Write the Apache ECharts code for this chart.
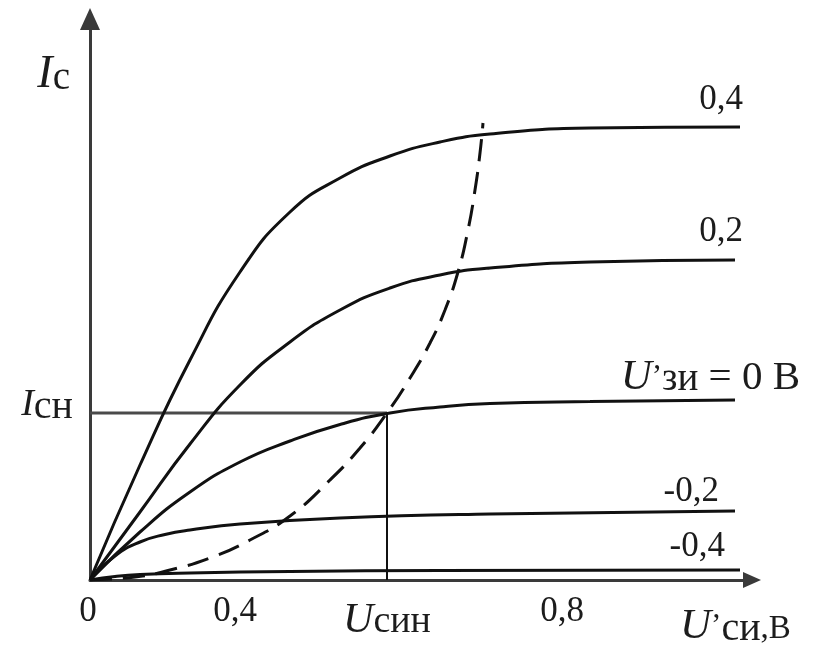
<!DOCTYPE html>
<html><head><meta charset="utf-8">
<script src="https://cdn.jsdelivr.net/npm/echarts@6/dist/echarts.min.js"></script>
<style>html,body{margin:0;padding:0;background:#fff}#c{width:813px;height:648px}</style>
</head><body><div id="c"></div>
<script>
// Schematic FET output characteristics (arbitrary drawing units on both axes)
const curve04  = [[0,0],[0.5,1.15],[1.0,2.20],[1.5,3.08],[2.0,3.68],[2.5,4.02],[3.0,4.24],[3.5,4.38],[4.0,4.46],[5.0,4.52],[6.5,4.53]];
const curve02  = [[0,0],[0.5,0.68],[1.0,1.36],[1.5,1.95],[2.0,2.38],[2.5,2.70],[3.0,2.92],[3.5,3.05],[4.0,3.12],[5.0,3.18],[6.45,3.20]];
const curve0   = [[0,0],[0.5,0.48],[1.0,0.88],[1.5,1.18],[2.0,1.39],[2.5,1.555],[3.0,1.67],[3.5,1.73],[4.0,1.765],[5.0,1.785],[6.45,1.80]];
const curveM02 = [[0,0],[0.25,0.24],[0.5,0.38],[0.75,0.455],[1.0,0.50],[1.5,0.56],[2.5,0.62],[4.0,0.66],[6.45,0.69]];
const curveM04 = [[0,0],[0.25,0.035],[0.5,0.055],[1.0,0.07],[2.0,0.085],[3.5,0.095],[6.5,0.10]];
const satBoundary = [[0,0],[0.45,0.03],[0.8,0.10],[1.2,0.22],[1.6,0.40],[2.0,0.64],[2.4,1.00],[2.7,1.32],[2.97,1.67],[3.2,2.02],[3.4,2.37],[3.55,2.70],[3.68,3.08],[3.78,3.50],[3.85,3.90],[3.9,4.27],[3.93,4.57]];
const iChLevel = 1.67;
const uSatValue = 2.97;
const xTickPos  = [0, 1.45, uSatValue, 4.72];
const xTickText = ['0', '0,4', 'U_син', '0,8'];
const yTickPos  = [iChLevel];
const yTickText = ['I_сн'];
const curveLabels = ['0,4', '0,2', 'U’_зи_ = 0 В', '-0,2', '-0,4'];
const xAxisName = 'U’_си_,В';
const yAxisName = 'I_с';
const xMax = 6.62, yMax = 5.61;

const FONT = "'Liberation Serif','Times New Roman',serif";
const INK = '#1c1c1c';

function toRich(t, mainKey, subKey, restKey) {
  const parts = t.split('_');
  if (parts.length === 1) return t;
  let s = '{' + mainKey + '|' + parts[0] + '}{' + subKey + '|' + parts[1] + '}';
  if (parts.length > 2 && parts[2]) s += '{' + restKey + '|' + parts[2] + '}';
  return s;
}
function primedRich(t, restKey) {
  const p = t.split('_');
  return '{i|U}{ap|’}{s|' + p[1] + '}{' + restKey + '|' + p[2] + '}';
}

const chart = echarts.init(document.getElementById('c'), null, {renderer: 'canvas'});

const curves = [curve04, curve02, curve0, curveM02, curveM04];
const labelOffsets = [[3,-27],[8,-28],[65,-22],[-16,-19],[-15,-23]];

const series = curves.map((d, k) => ({
  type: 'line', data: d, smooth: 0.5,
  symbol: 'none', showSymbol: false, silent: true, z: 3,
  lineStyle: {color: '#111', width: 3},
  endLabel: {
    show: true,
    formatter: () => curveLabels[k].indexOf('_') < 0 ? curveLabels[k] : primedRich(curveLabels[k], 'n'),
    align: 'right', verticalAlign: 'middle', distance: 0, offset: labelOffsets[k],
    fontFamily: FONT, fontSize: 35, color: INK,
    rich: {
      i: {fontFamily: FONT, fontSize: 43, fontStyle: 'italic', color: INK, lineHeight: 42},
      ap: {fontFamily: FONT, fontSize: 31, color: INK, lineHeight: 42},
      s: {fontFamily: FONT, fontSize: 39, color: INK, lineHeight: 42, padding: [4,0,0,0]},
      n: {fontFamily: FONT, fontSize: 41, color: INK, lineHeight: 42}
    }
  }
}));

series.push({
  type: 'line', data: satBoundary, smooth: 0.5,
  symbol: 'none', showSymbol: false, silent: true, z: 4,
  lineStyle: {color: '#111', width: 3, type: [22, 11]}
});
series.push({
  type: 'line', data: [[0, iChLevel], [uSatValue, iChLevel]],
  symbol: 'none', showSymbol: false, silent: true, z: 2,
  lineStyle: {color: '#4a4a4a', width: 3}
});
series.push({
  type: 'line', data: [[uSatValue, iChLevel], [uSatValue, 0]],
  symbol: 'none', showSymbol: false, silent: true, z: 2,
  lineStyle: {color: '#111', width: 2}
});

const option = {
  backgroundColor: '#fff',
  animation: false,
  grid: {left: 90, right: 61, top: 19, bottom: 68, outerBoundsMode: 'none', containLabel: false},
  xAxis: {
    type: 'value', min: 0, max: xMax,
    splitLine: {show: false}, axisTick: {show: false},
    axisLine: {show: true, onZero: false, symbol: ['none', 'triangle'], symbolSize: [16, 18],
      lineStyle: {color: '#3a3a3a', width: 3}},
    axisLabel: {
      customValues: xTickPos, margin: 14,
      fontFamily: FONT, fontSize: 35, color: INK,
      formatter: (v) => {
        const t = xTickText[xTickPos.indexOf(v)];
        if (t === '0') return '{z|0}';
        return toRich(t, 'i', 's', 's');
      },
      rich: {
        z: {fontFamily: FONT, fontSize: 35, color: INK, padding: [0, 4, 12, 0]},
        i: {fontFamily: FONT, fontSize: 42, fontStyle: 'italic', color: INK, lineHeight: 42, padding: [12, 0, 0, 0]},
        s: {fontFamily: FONT, fontSize: 38, color: INK, lineHeight: 42, padding: [14, 0, 0, 0]}
      }
    },
    name: primedRich(xAxisName, 'm'),
    nameLocation: 'end', nameGap: -72,
    nameTextStyle: {
      align: 'left', verticalAlign: 'top', padding: [26, 0, 0, 0],
      fontFamily: FONT, fontSize: 30, color: INK,
      rich: {
        i: {fontFamily: FONT, fontSize: 43, fontStyle: 'italic', color: INK, lineHeight: 42},
        ap: {fontFamily: FONT, fontSize: 31, color: INK, lineHeight: 42},
        s: {fontFamily: FONT, fontSize: 40, color: INK, lineHeight: 42, padding: [4,0,0,0]},
        m: {fontFamily: FONT, fontSize: 33, color: INK, lineHeight: 42, padding: [5,0,0,0]}
      }
    }
  },
  yAxis: {
    type: 'value', min: 0, max: yMax,
    splitLine: {show: false}, axisTick: {show: false},
    axisLine: {show: true, onZero: false, symbol: ['none', 'triangle'], symbolSize: [20, 22],
      lineStyle: {color: '#3a3a3a', width: 3}},
    axisLabel: {
      customValues: yTickPos, margin: 17,
      fontFamily: FONT, fontSize: 32, color: INK,
      formatter: (v) => toRich(yTickText[yTickPos.indexOf(v)], 'i', 's', 's'),
      rich: {
        i: {fontFamily: FONT, fontSize: 38, fontStyle: 'italic', color: INK, lineHeight: 36, padding: [0,0,16,0]},
        s: {fontFamily: FONT, fontSize: 40, color: INK, lineHeight: 36, padding: [0,0,12,0]}
      }
    },
    name: toRich(yAxisName, 'i', 's', 's'),
    nameLocation: 'end', nameGap: -56,
    nameTextStyle: {
      align: 'right', verticalAlign: 'middle', padding: [0, 20, 0, 0],
      fontFamily: FONT, fontSize: 36, color: INK,
      rich: {
        i: {fontFamily: FONT, fontSize: 46, fontStyle: 'italic', color: INK, lineHeight: 46},
        s: {fontFamily: FONT, fontSize: 39, color: INK, lineHeight: 46, padding: [8,0,0,0]}
      }
    }
  },
  series: series
};
chart.setOption(option);
</script></body></html>
